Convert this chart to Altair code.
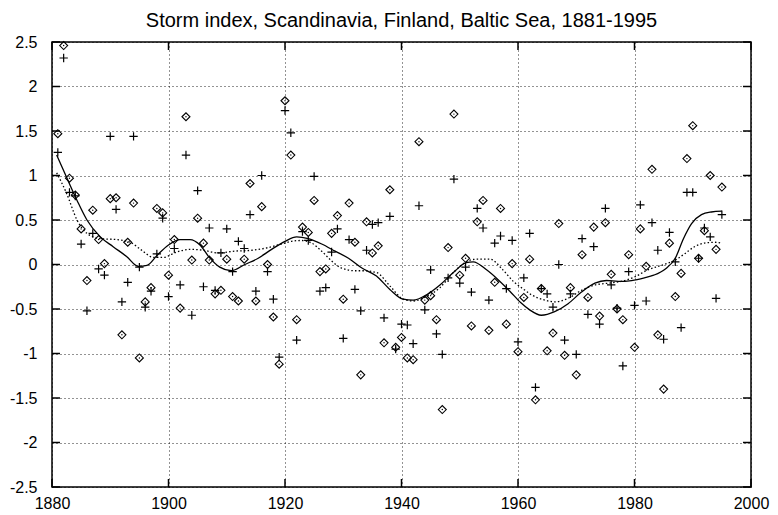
import altair as alt
import pandas as pd

title_text = "Storm index, Scandinavia, Finland, Baltic Sea, 1881-1995"

years = list(range(1881, 1996))

diamond_values = [
    1.47, 2.46, 0.97, 0.78, 0.40, -0.18, 0.61, 0.28, 0.01, 0.74, 0.75, -0.79, 0.25, 0.69, -1.05, -0.42, -0.26, 0.63, 0.58, -0.12, 0.28, -0.49,
    1.66, 0.05, 0.52, 0.24, 0.05, -0.33, -0.29, 0.06, -0.36, -0.41, 0.06, 0.91, -0.41, 0.65, 0.00, -0.59, -1.12, 1.84, 1.23, -0.62,
    0.42, 0.36, 0.72, -0.08, -0.05, 0.35, 0.55, -0.39, 0.69, 0.25, -1.24, 0.48, 0.13, 0.21, -0.88, 0.84, -0.93, -0.82, -1.05, -1.07, 1.38,
    -0.40, -0.35, -0.62, -1.63, 0.19, 1.69, -0.12, 0.07, -0.69, 0.48, 0.72, -0.74, -0.20, 0.63, -0.67, 0.01, -0.98, -0.37, 0.06, -1.52,
    -0.27, -0.97, -0.77, 0.46, -1.02, -0.26, -1.24, 0.11, -0.37, 0.42, -0.58, 0.47, -0.11, -0.50, -0.62, 0.11, -0.93, 0.40, -0.02, 1.07,
    -0.79, -1.40, 0.24, -0.36, -0.10, 1.19, 1.56, 0.07, 0.38, 1.00, 0.17, 0.87,
]

plus_values = [
    1.26, 2.32, 0.81, 0.77, 0.23, -0.52, 0.35, -0.05, -0.12, 1.44, 0.62, -0.42, -0.20, 1.44, -0.03, -0.48, -0.30, 0.12, 0.52, -0.36, 0.18, -0.23,
    1.23, -0.57, 0.83, -0.25, 0.41, -0.29, 0.13, 0.40, -0.08, 0.26, 0.18, 0.56, -0.30, 1.00, -0.08, -0.39, -1.04, 1.73, 1.48, -0.85,
    0.37, 0.27, 0.99, -0.30, -0.26, 0.14, 0.40, -0.83, 0.28, -0.28, -0.52, 0.16, 0.45, 0.47, -0.60, 0.54, -0.95, -0.67, -0.68, -0.89, 0.66,
    -0.51, -0.06, -0.78, -1.01, -0.15, 0.96, -0.21, -0.03, -0.31, 0.63, 0.41, -0.40, 0.24, 0.32, -0.27, 0.27, -0.87, -0.15, 0.35, -1.38,
    -0.27, -0.33, -0.48, 0.00, -0.85, -0.33, -1.01, 0.29, -0.56, 0.20, -0.67, 0.63, -0.23, -0.49, -1.14, -0.08, -0.46, 0.67, -0.41, 0.47,
    0.16, -0.84, 0.36, 0.03, -0.71, 0.81, 0.81, 0.07, 0.41, 0.31, -0.38, 0.56,
]

solid_years = [1880.8, 1882.5, 1884.3, 1886.0, 1888.3, 1890.5, 1892.8, 1894.8, 1896.3, 1898.0,
               1900.0, 1902.0, 1903.7, 1905.4, 1907.0, 1908.8, 1910.8, 1913.1, 1915.4, 1917.7,
               1920.0, 1922.0, 1924.0, 1926.3, 1928.6, 1930.9, 1933.2, 1935.7, 1938.0, 1940.3,
               1942.0, 1944.3, 1946.6, 1948.9, 1951.1, 1952.3, 1954.6, 1956.9, 1958.6, 1960.5,
               1962.0, 1964.0, 1966.3, 1968.6, 1970.9, 1973.2, 1975.2, 1977.2, 1979.5, 1981.7,
               1983.3, 1985.3, 1987.0, 1988.4, 1989.8, 1991.5, 1993.2, 1995.0]
solid_values = [1.23, 0.98, 0.72, 0.50, 0.31, 0.20, 0.09, -0.02, -0.01, 0.10,
                0.22, 0.28, 0.28, 0.22, 0.08, -0.03, -0.07, 0.00, 0.07, 0.17,
                0.26, 0.31, 0.29, 0.23, 0.15, 0.07, -0.04, -0.13, -0.28, -0.39,
                -0.40, -0.34, -0.23, -0.09, 0.02, 0.03, -0.06, -0.19, -0.30, -0.43,
                -0.51, -0.57, -0.53, -0.44, -0.31, -0.21, -0.18, -0.19, -0.18, -0.15,
                -0.12, -0.05, 0.07, 0.29, 0.46, 0.56, 0.59, 0.60]

dotted_years = [1880.8, 1882.5, 1884.3, 1886.0, 1888.3, 1891.1, 1893.4, 1895.4, 1897.4, 1899.1,
                1901.4, 1903.7, 1906.0, 1908.5, 1911.3, 1914.3, 1917.1, 1919.4, 1921.1, 1922.8,
                1924.6, 1926.3, 1928.0, 1929.7, 1932.0, 1933.4, 1935.7, 1938.0, 1940.3, 1942.0,
                1944.3, 1946.6, 1948.9, 1951.1, 1952.9, 1955.2, 1957.4, 1959.2, 1961.0, 1962.3,
                1964.6, 1966.3, 1968.6, 1970.9, 1973.2, 1975.5, 1977.7, 1980.0, 1982.3, 1984.6,
                1987.0, 1988.6, 1990.3, 1992.0, 1993.8, 1995.0]
dotted_values = [1.03, 0.80, 0.50, 0.35, 0.29, 0.28, 0.25, 0.16, 0.08, 0.08,
                 0.14, 0.17, 0.16, 0.13, 0.15, 0.16, 0.19, 0.23, 0.26, 0.27,
                 0.24, 0.15, 0.04, -0.04, -0.07, -0.07, -0.09, -0.24, -0.39, -0.41,
                 -0.36, -0.26, -0.09, 0.03, 0.06, 0.06, -0.06, -0.19, -0.28, -0.34,
                 -0.40, -0.42, -0.38, -0.29, -0.23, -0.21, -0.19, -0.14, -0.06, -0.01,
                 0.05, 0.12, 0.20, 0.24, 0.25, 0.24]

x_ticks = [1880, 1900, 1920, 1940, 1960, 1980, 2000]
y_ticks = [-2.5, -2, -1.5, -1, -0.5, 0, 0.5, 1, 1.5, 2, 2.5]

W, H = 699, 445
TICK = 8
FONT = "Liberation Sans"

pts = pd.DataFrame({"year": years, "diamond": diamond_values, "plus": plus_values})
solid = pd.DataFrame({"year": solid_years, "value": solid_values})
dotted = pd.DataFrame({"year": dotted_years, "value": dotted_values})
xt = pd.DataFrame({"t": x_ticks})
yt = pd.DataFrame({"t": y_ticks})

xscale = alt.Scale(domain=[1880, 2000], nice=False, zero=False)
yscale = alt.Scale(domain=[-2.5, 2.5], nice=False, zero=False)

common_axis = dict(grid=True, ticks=False, domain=False, title=None,
                   labelExpr="'' + datum.value", labelFont=FONT, labelFontSize=16,
                   labelColor="black", labelFlush=False, labelOverlap=False,
                   gridDash=[1, 3], gridColor="black", gridWidth=1, gridOpacity=0.85)
xaxis = alt.Axis(values=x_ticks, labelPadding=8, **common_axis)
yaxis = alt.Axis(values=y_ticks, labelPadding=15, **common_axis)


def X(field):
    return alt.X(field, type="quantitative", scale=xscale, axis=xaxis)


def Y(field):
    return alt.Y(field, type="quantitative", scale=yscale, axis=yaxis)


diamonds = alt.Chart(pts).mark_point(
    shape="diamond", size=64, filled=False, color="black", strokeWidth=1.1, opacity=1
).encode(x=X("year"), y=Y("diamond"))
dots = alt.Chart(pts).mark_point(
    shape="circle", size=2, filled=True, color="black", opacity=1
).encode(x=X("year"), y=Y("diamond"))
pluses = alt.Chart(pts).mark_point(
    shape="M-1,0L1,0M0,-1L0,1", size=70, filled=False, color="black", strokeWidth=1.2, opacity=1
).encode(x=X("year"), y=Y("plus"))
solid_line = alt.Chart(solid).mark_line(
    color="black", strokeWidth=1.3, interpolate="monotone"
).encode(x=X("year"), y=Y("value"))
dotted_line = alt.Chart(dotted).mark_line(
    color="black", strokeWidth=1.3, strokeDash=[1.5, 2.2], interpolate="monotone"
).encode(x=X("year"), y=Y("value"))

tick_style = dict(color="black", strokeWidth=1.5)
xt_bottom = alt.Chart(xt).mark_rule(**tick_style).encode(
    x=X("t"), y=alt.value(H), y2=alt.value(H - TICK))
xt_top = alt.Chart(xt).mark_rule(**tick_style).encode(
    x=X("t"), y=alt.value(0), y2=alt.value(TICK))
yt_left = alt.Chart(yt).mark_rule(**tick_style).encode(
    y=Y("t"), x=alt.value(0), x2=alt.value(TICK))
yt_right = alt.Chart(yt).mark_rule(**tick_style).encode(
    y=Y("t"), x=alt.value(W), x2=alt.value(W - TICK))

chart = alt.layer(
    diamonds, dots, pluses, solid_line, dotted_line, xt_bottom, xt_top, yt_left, yt_right
).properties(
    width=W,
    height=H,
    background="white",
    padding={"left": 44, "top": 34, "right": 19, "bottom": 24},
    autosize=alt.AutoSizeParams(type="none"),
    title=alt.TitleParams(
        text=title_text, font=FONT, fontSize=20, fontWeight="normal", color="black",
        anchor="middle", offset=3,
    ),
).configure_view(
    stroke="black", strokeWidth=1.5
)

chart.save("out.html", embed_options={"renderer": "svg", "actions": False})
